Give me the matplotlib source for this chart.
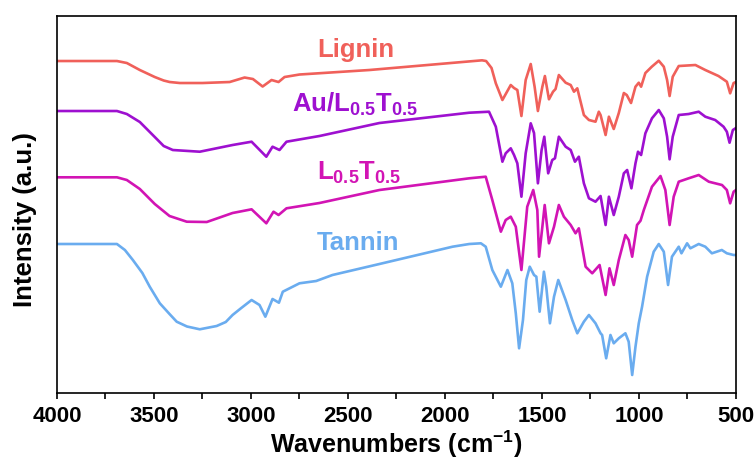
import matplotlib
matplotlib.use("Agg")
import matplotlib.pyplot as plt
from matplotlib.ticker import MultipleLocator

plt.rcParams['font.family'] = ['Liberation Sans', 'DejaVu Sans']
plt.rcParams['font.weight'] = 'bold'
plt.rcParams['axes.labelweight'] = 'bold'
plt.rcParams['mathtext.fontset'] = 'custom'
plt.rcParams['mathtext.rm'] = 'Liberation Sans:bold'
plt.rcParams['mathtext.it'] = 'Liberation Sans:bold'
plt.rcParams['mathtext.bf'] = 'Liberation Sans:bold'

# ---- spectra (wavenumber in cm-1, intensity in a.u., already offset) ----
lignin_w = [4000, 3850, 3691, 3640, 3573, 3496, 3450, 3419, 3367, 3250, 3110, 3033, 2990, 2940,
            2894, 2858, 2827, 2750, 2390, 1809, 1788, 1760, 1738, 1704, 1661, 1644,
            1627, 1606, 1584, 1558, 1538, 1521, 1498, 1485, 1464, 1443, 1430, 1413,
            1378, 1352, 1335, 1318, 1284, 1258, 1224, 1207, 1198, 1172, 1155, 1130,
            1104, 1078, 1063, 1041, 1018, 1001, 989, 967, 934, 898, 872, 855, 842,
            826, 795, 709, 658, 590, 547, 530, 512, 500]
lignin_i = [332, 332, 332, 330, 323, 316, 312.5, 311, 310, 310, 311, 315.5, 314, 306.5,
            313, 311, 316, 318.5, 323, 332.7, 332, 325, 309.7, 293, 308, 305,
            303, 277, 313, 329, 306.3, 282, 306.3, 317, 293.7, 301.3, 304, 318,
            310.3, 308, 301.3, 304.7, 278, 273, 271.3, 281.3, 278, 258, 276.3, 264,
            280, 300, 298, 290, 306.3, 310.3, 306.3, 320, 326.3, 332.3, 326.3, 313, 297,
            316.3, 327, 328, 323, 317, 311.3, 299.7, 310, 311]

au_w = [4000, 3850, 3691, 3640, 3573, 3496, 3450, 3403, 3264, 3095, 2997, 2921, 2889, 2853,
        2817, 2647, 2338, 1875, 1773, 1738, 1704, 1687, 1661, 1644, 1627, 1606,
        1584, 1558, 1541, 1521, 1502, 1488, 1468, 1447, 1433, 1413, 1378, 1352,
        1330, 1310, 1284, 1258, 1224, 1198, 1172, 1155, 1130, 1104, 1078, 1061,
        1039, 1018, 1005, 989, 967, 933, 898, 872, 855, 842, 826, 795, 744, 692,
        658, 607, 564, 547, 533, 516, 500]
au_i = [282, 282, 282, 279, 271, 256, 247, 243, 241.3, 248, 251.3, 236.3, 246.3, 243,
        251.3, 257, 270, 280.3, 281.3, 266.3, 231.3, 239.7, 244.7, 238, 229.7, 196.3,
        239.7, 269.7, 260, 209.7, 243, 256.3, 219.7, 233, 234.7, 256.3, 246.3, 243,
        231.3, 236.3, 209.7, 194.7, 191.3, 197, 168, 196.3, 178, 196.3, 219.7, 223,
        204.7, 229.7, 241.3, 238, 259.7, 274.7, 283, 274.7, 256.3, 233.7, 256.3, 278, 279, 281.3,
        276.3, 273, 266.3, 261.3, 250.3, 263, 265]

lt_w = [4000, 3850, 3691, 3640, 3573, 3496, 3420, 3331, 3228, 3095, 2997, 2921, 2884, 2858,
        2817, 2647, 2338, 1875, 1790, 1756, 1712, 1687, 1661, 1635, 1606, 1576,
        1545, 1524, 1515, 1498, 1486, 1464, 1438, 1413, 1387, 1352, 1327, 1310,
        1275, 1241, 1203, 1172, 1152, 1130, 1104, 1070, 1053, 1035, 1010, 992,
        975, 933, 889, 864, 842, 821, 795, 744, 692, 640, 572, 547, 530, 512, 500]
lt_i = [215.7, 215.7, 215.7, 213, 204, 189, 177, 171.3, 171, 180, 183.7, 169.7, 181.3, 178,
        184.7, 190, 203, 214.7, 216.3, 193, 161.3, 173, 176.3, 166.3, 123, 186.3,
        203, 183, 136.3, 166.3, 188, 149.7, 166.3, 188, 176.3, 168, 159.7, 164.7,
        126.3, 119.7, 128, 98, 124.7, 108, 133, 158, 153, 136.3, 168, 172.3,
        183, 206.3, 217, 203, 168, 196.3, 211.3, 214.7, 218, 211.3, 208, 203, 189.7, 201.3, 203]

tannin_w = [4000, 3850, 3691, 3650, 3609, 3560, 3522, 3470, 3420, 3383, 3330, 3264, 3177, 3130,
            3095, 3050, 2997, 2956,
            2926, 2889, 2856, 2836, 2750, 2664, 2580, 2338, 1961, 1875, 1815, 1790,
            1756, 1712, 1678, 1653, 1635, 1618, 1598, 1581, 1563, 1541, 1529, 1512,
            1490, 1478, 1459, 1438, 1416, 1378, 1344, 1318, 1284, 1258, 1224, 1198,
            1190, 1169, 1147, 1130, 1104, 1070, 1053, 1035, 1018, 1001, 984, 958,
            924, 898, 872, 850, 830, 795, 781, 752, 735, 692, 658, 624, 573, 547, 512, 500]
tannin_i = [149, 149, 149, 143, 133, 120, 106.3, 89.7, 79, 71.3, 66.5, 63.7, 67, 71,
            78, 85, 93, 88,
            76.3, 94, 90.3, 101.3, 109.7, 112, 118, 129, 146.3, 149, 149.7, 146.3,
            123, 106.3, 123, 109.7, 79.7, 44.7, 73, 113, 126.3, 118, 116.3, 81.3,
            121.3, 106.3, 69.7, 96.3, 113, 93, 73, 59.7, 71.3, 78, 69.7, 59.7,
            58, 34.7, 58, 49.7, 54.7, 59.7, 51.3, 18, 46.3, 69.7, 86.3, 116.3,
            141.3, 149, 141.3, 108, 136.3, 146.3, 139.7, 149.7, 144.7, 149, 146.3, 139.7, 143, 139.7, 138, 138]

fig = plt.figure(figsize=(7.56, 4.63), dpi=100)
ax = fig.add_axes([0.0754, 0.1512, 0.8981, 0.8142])

for w, i, c in [(lignin_w, lignin_i, '#F0605A'), (au_w, au_i, '#9E10D0'),
                (lt_w, lt_i, '#D214B4'), (tannin_w, tannin_i, '#6AACEF')]:
    ax.plot(w, i, color=c, lw=1.9, solid_joinstyle='round')

# curve labels
ax.text(2462, 343, 'Lignin', color='#F0605A', fontsize=18.5, ha='center', va='center')
ax.text(2467, 289, 'Au/L$_{0.5}$T$_{0.5}$', color='#9E10D0', fontsize=18.5, ha='center', va='center')
ax.text(2441, 220, 'L$_{0.5}$T$_{0.5}$', color='#D214B4', fontsize=18.5, ha='center', va='center')
ax.text(2446, 150, 'Tannin', color='#6AACEF', fontsize=18.5, ha='center', va='center')

ax.set_xlim(4000, 500)
ax.set_ylim(0, 377)
ax.xaxis.set_major_locator(MultipleLocator(500))
ax.xaxis.set_minor_locator(MultipleLocator(250))
ax.tick_params(axis='x', which='both', direction='out', length=4.5, width=1.2)
ax.tick_params(axis='x', labelsize=16, pad=5)
ax.set_yticks([])
for s in ax.spines.values():
    s.set_linewidth(1.2)

ax.set_xlabel('Wavenumbers (cm$^{-1}$)', fontsize=18, labelpad=1)
ax.set_ylabel('Intensity (a.u.)', fontsize=18.5)
ax.yaxis.set_label_coords(-0.03, 0.46)

fig.savefig('out.png', dpi=100)
